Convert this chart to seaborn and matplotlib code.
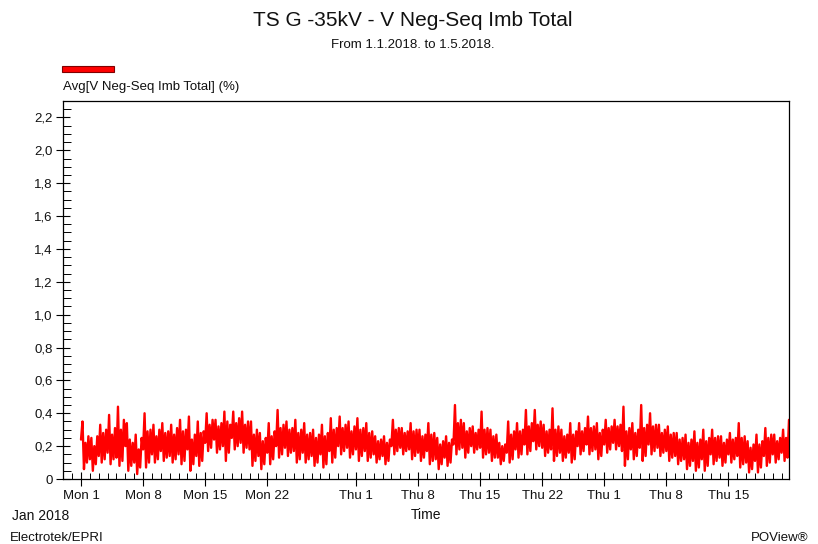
import matplotlib
matplotlib.use("Agg")
import numpy as np
import pandas as pd
import matplotlib.pyplot as plt
import matplotlib.dates as mdates
import seaborn as sns
from matplotlib.ticker import FixedLocator, MultipleLocator, FuncFormatter
from matplotlib.patches import Rectangle

# ---- data: 4-hourly samples of V Neg-Seq Imb Total (%), one row per day ----
start = "2018-01-01 00:00"
step = "4h"
imb = [
    0.24, 0.35, 0.06, 0.22, 0.10, 0.26,
    0.12, 0.25, 0.05, 0.20, 0.09, 0.26,
    0.14, 0.33, 0.10, 0.28, 0.12, 0.30,
    0.16, 0.39, 0.09, 0.27, 0.12, 0.31,
    0.13, 0.44, 0.08, 0.30, 0.11, 0.36,
    0.20, 0.34, 0.05, 0.24, 0.08, 0.22,
    0.10, 0.27, 0.03, 0.18, 0.07, 0.25,
    0.18, 0.40, 0.07, 0.29, 0.10, 0.30,
    0.15, 0.33, 0.10, 0.26, 0.12, 0.30,
    0.17, 0.34, 0.11, 0.28, 0.13, 0.29,
    0.14, 0.33, 0.10, 0.27, 0.12, 0.31,
    0.15, 0.36, 0.09, 0.29, 0.11, 0.30,
    0.18, 0.38, 0.05, 0.24, 0.09, 0.27,
    0.14, 0.35, 0.08, 0.28, 0.11, 0.29,
    0.22, 0.40, 0.17, 0.33, 0.19, 0.36,
    0.24, 0.36, 0.16, 0.32, 0.18, 0.34,
    0.20, 0.41, 0.11, 0.35, 0.16, 0.33,
    0.25, 0.41, 0.18, 0.34, 0.20, 0.37,
    0.22, 0.41, 0.16, 0.33, 0.19, 0.35,
    0.18, 0.35, 0.08, 0.27, 0.11, 0.30,
    0.14, 0.28, 0.06, 0.23, 0.09, 0.25,
    0.16, 0.34, 0.09, 0.26, 0.12, 0.29,
    0.20, 0.42, 0.13, 0.31, 0.15, 0.33,
    0.19, 0.35, 0.14, 0.30, 0.16, 0.31,
    0.17, 0.36, 0.10, 0.28, 0.12, 0.30,
    0.16, 0.34, 0.10, 0.27, 0.12, 0.28,
    0.14, 0.30, 0.08, 0.25, 0.10, 0.27,
    0.15, 0.33, 0.07, 0.26, 0.09, 0.28,
    0.17, 0.37, 0.10, 0.30, 0.13, 0.31,
    0.20, 0.38, 0.15, 0.31, 0.17, 0.33,
    0.19, 0.35, 0.13, 0.29, 0.15, 0.32,
    0.18, 0.37, 0.11, 0.30, 0.14, 0.31,
    0.17, 0.34, 0.11, 0.28, 0.13, 0.29,
    0.15, 0.26, 0.10, 0.23, 0.12, 0.24,
    0.14, 0.26, 0.09, 0.22, 0.11, 0.24,
    0.20, 0.36, 0.15, 0.30, 0.17, 0.31,
    0.19, 0.31, 0.15, 0.28, 0.17, 0.29,
    0.18, 0.34, 0.12, 0.29, 0.14, 0.30,
    0.16, 0.30, 0.11, 0.26, 0.13, 0.27,
    0.17, 0.34, 0.09, 0.27, 0.11, 0.28,
    0.12, 0.25, 0.06, 0.21, 0.09, 0.23,
    0.13, 0.26, 0.08, 0.22, 0.10, 0.24,
    0.21, 0.45, 0.15, 0.34, 0.18, 0.36,
    0.19, 0.34, 0.13, 0.29, 0.16, 0.31,
    0.20, 0.32, 0.16, 0.28, 0.18, 0.30,
    0.19, 0.41, 0.13, 0.30, 0.15, 0.31,
    0.16, 0.30, 0.11, 0.26, 0.13, 0.27,
    0.13, 0.22, 0.09, 0.20, 0.11, 0.21,
    0.16, 0.35, 0.10, 0.27, 0.12, 0.29,
    0.18, 0.34, 0.13, 0.29, 0.15, 0.30,
    0.21, 0.42, 0.15, 0.32, 0.17, 0.34,
    0.23, 0.42, 0.18, 0.33, 0.20, 0.35,
    0.19, 0.33, 0.14, 0.29, 0.16, 0.30,
    0.18, 0.43, 0.11, 0.30, 0.14, 0.32,
    0.16, 0.30, 0.11, 0.26, 0.13, 0.27,
    0.16, 0.34, 0.10, 0.27, 0.12, 0.29,
    0.20, 0.34, 0.15, 0.29, 0.17, 0.31,
    0.21, 0.38, 0.15, 0.31, 0.17, 0.32,
    0.18, 0.34, 0.12, 0.28, 0.14, 0.30,
    0.21, 0.36, 0.16, 0.31, 0.18, 0.32,
    0.22, 0.36, 0.18, 0.32, 0.20, 0.33,
    0.17, 0.44, 0.08, 0.29, 0.12, 0.31,
    0.18, 0.34, 0.12, 0.28, 0.14, 0.30,
    0.19, 0.45, 0.11, 0.31, 0.14, 0.33,
    0.21, 0.40, 0.15, 0.32, 0.17, 0.33,
    0.19, 0.33, 0.14, 0.28, 0.16, 0.30,
    0.17, 0.32, 0.11, 0.27, 0.13, 0.28,
    0.14, 0.28, 0.09, 0.24, 0.11, 0.25,
    0.12, 0.27, 0.06, 0.22, 0.08, 0.24,
    0.11, 0.29, 0.05, 0.22, 0.07, 0.24,
    0.12, 0.30, 0.05, 0.23, 0.08, 0.25,
    0.15, 0.30, 0.09, 0.25, 0.11, 0.26,
    0.13, 0.26, 0.08, 0.22, 0.10, 0.24,
    0.15, 0.28, 0.10, 0.24, 0.12, 0.25,
    0.14, 0.34, 0.07, 0.25, 0.09, 0.26,
    0.10, 0.23, 0.04, 0.19, 0.06, 0.21,
    0.11, 0.27, 0.04, 0.21, 0.07, 0.23,
    0.14, 0.31, 0.08, 0.25, 0.10, 0.27,
    0.15, 0.27, 0.10, 0.23, 0.12, 0.25,
    0.16, 0.30, 0.11, 0.25, 0.13, 0.36,
]

week_ticks = ["2018-01-01", "2018-01-08", "2018-01-15", "2018-01-22",
              "2018-02-01", "2018-02-08", "2018-02-15", "2018-02-22",
              "2018-03-01", "2018-03-08", "2018-03-15"]
y_ticks = [0.0, 0.2, 0.4, 0.6, 0.8, 1.0, 1.2, 1.4, 1.6, 1.8, 2.0, 2.2]

title = "TS G -35kV - V Neg-Seq Imb Total"
subtitle = "From 1.1.2018. to 1.5.2018."
series_label = "Avg[V Neg-Seq Imb Total] (%)"

# ---- figure ----
sns.set_style("ticks")
plt.rcParams["font.family"] = ["Liberation Sans", "DejaVu Sans"]
plt.rcParams["xtick.minor.visible"] = True
plt.rcParams["ytick.minor.visible"] = True

W, H = 818, 544
fig = plt.figure(figsize=(W / 100, H / 100), dpi=100)
ax = fig.add_axes([63 / W, 1 - 479 / H, (789 - 63) / W, (479 - 101) / H])

df = pd.DataFrame({
    "time": pd.date_range(start, periods=len(imb), freq=step),
    "imb": imb,
})
sns.lineplot(data=df, x="time", y="imb", ax=ax, color="#ff0000",
             linewidth=1.7, estimator=None)

ax.set_xlim(pd.Timestamp("2017-12-29 23:15"), pd.Timestamp("2018-03-21 20:00"))
ax.set_ylim(0, 2.3)

# x axis: weekly labels, daily minor ticks
ax.xaxis.set_major_locator(FixedLocator(mdates.date2num(pd.to_datetime(week_ticks))))
ax.xaxis.set_major_formatter(FuncFormatter(
    lambda v, p: "{:%a} {}".format(mdates.num2date(v), mdates.num2date(v).day)))
ax.xaxis.set_minor_locator(mdates.DayLocator())

# y axis: comma decimals
ax.yaxis.set_major_locator(FixedLocator(y_ticks))
ax.yaxis.set_major_formatter(FuncFormatter(
    lambda v, p: "0" if abs(v) < 1e-9 else f"{v:.1f}".replace(".", ",")))
ax.yaxis.set_minor_locator(MultipleLocator(0.05))

ax.tick_params(which="major", direction="inout", length=10.5, width=0.8,
               color="black", labelsize=9.5, labelcolor="#111111")
ax.tick_params(axis="x", which="major", pad=3)
ax.tick_params(axis="y", which="major", pad=2)
ax.tick_params(axis="x", which="minor", direction="in", length=4.3, width=0.7,
               color="black", bottom=True, top=False)
ax.tick_params(axis="y", which="minor", direction="in", length=5.8, width=0.7,
               color="black", left=True, right=False)

for s in ax.spines.values():
    s.set_visible(True)
    s.set_color("black")
    s.set_linewidth(0.9)

ax.set_xlabel("Time", fontsize=10, color="#111111", labelpad=4)
ax.set_ylabel("")

# header, legend swatch and footer
fig.text(413 / W, 1 - 21 / H, title, ha="center", va="center", fontsize=15, color="#111111")
fig.text(413 / W, 1 - 45 / H, subtitle, ha="center", va="center", fontsize=9.5, color="#111111")
fig.patches.append(Rectangle((62 / W, 1 - 72 / H), 52 / W, 6 / H, transform=fig.transFigure,
                             facecolor="#ff0000", edgecolor="#800000", linewidth=0.8))
fig.text(63 / W, 1 - 87 / H, series_label, ha="left", va="center", fontsize=9.5, color="#111111")
fig.text(12 / W, 1 - 516 / H, "Jan 2018", ha="left", va="center", fontsize=10, color="#111111")
fig.text(10 / W, 1 - 538 / H, "Electrotek/EPRI", ha="left", va="center", fontsize=9.5, color="#111111")
fig.text(808 / W, 1 - 538 / H, "POView®", ha="right", va="center", fontsize=9.5, color="#111111")

fig.savefig("out.png", dpi=100)
